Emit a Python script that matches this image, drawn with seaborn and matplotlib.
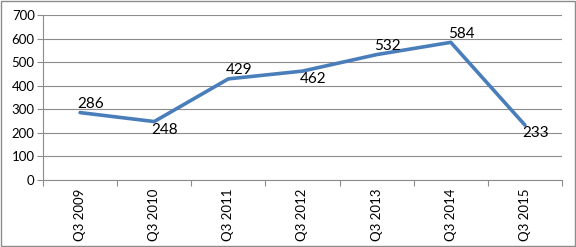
import matplotlib
matplotlib.use("Agg")
import matplotlib.pyplot as plt
import seaborn as sns
import pandas as pd
from matplotlib.patches import Rectangle
from matplotlib.ticker import FixedLocator

categories = ["Q3 2009", "Q3 2010", "Q3 2011", "Q3 2012", "Q3 2013", "Q3 2014", "Q3 2015"]
values = [286, 248, 429, 462, 532, 584, 233]
label_below = [False, True, False, True, False, False, True]
yticks = [0, 100, 200, 300, 400, 500, 600, 700]

sns.set_theme(style="white")
plt.rcParams["font.family"] = ["Lato", "DejaVu Sans"]

df = pd.DataFrame({"x": range(len(categories)), "value": values})

fig = plt.figure(figsize=(5.76, 2.47), dpi=100)
ax = fig.add_axes([43/576, 1-180/247, (562-43)/576, (180-15)/247])

sns.lineplot(data=df, x="x", y="value", ax=ax, color="#4A7EBB", linewidth=2.6)

ax.set_xlim(-0.5, len(categories)-0.5)
ax.set_ylim(0, 700)
ax.set_yticks(yticks)
ax.set_yticklabels([str(v) for v in yticks], fontsize=9.5, color="black")
ax.yaxis.grid(True, color="#8c8c8c", linewidth=0.8)
ax.set_axisbelow(True)

ax.set_xticks(range(len(categories)))
ax.set_xticklabels(categories, rotation=90, fontsize=9.5, color="black")
ax.xaxis.set_minor_locator(FixedLocator([i-0.5 for i in range(len(categories)+1)]))
ax.tick_params(axis="x", which="major", length=0, pad=6)
ax.tick_params(axis="x", which="minor", length=4, color="#8c8c8c", width=0.8, bottom=True)
ax.tick_params(axis="y", which="major", length=4, color="#8c8c8c", width=0.8, left=True, pad=2)

for s in ["top", "right"]:
    ax.spines[s].set_visible(False)
for s in ["left", "bottom"]:
    ax.spines[s].set_color("#8c8c8c")
    ax.spines[s].set_linewidth(0.8)

ax.set_xlabel("")
ax.set_ylabel("")

for i, (v, below) in enumerate(zip(values, label_below)):
    ax.annotate(str(v), (i, v), xytext=(-2, -1 if below else 1), textcoords="offset points",
                ha="left", va="top" if below else "bottom", fontsize=11, color="black")

fig.patches.append(Rectangle((0.002, 0.004), 0.996, 0.992, transform=fig.transFigure,
                             fill=False, edgecolor="#8c8c8c", linewidth=1))

fig.savefig("out.png", dpi=100)
